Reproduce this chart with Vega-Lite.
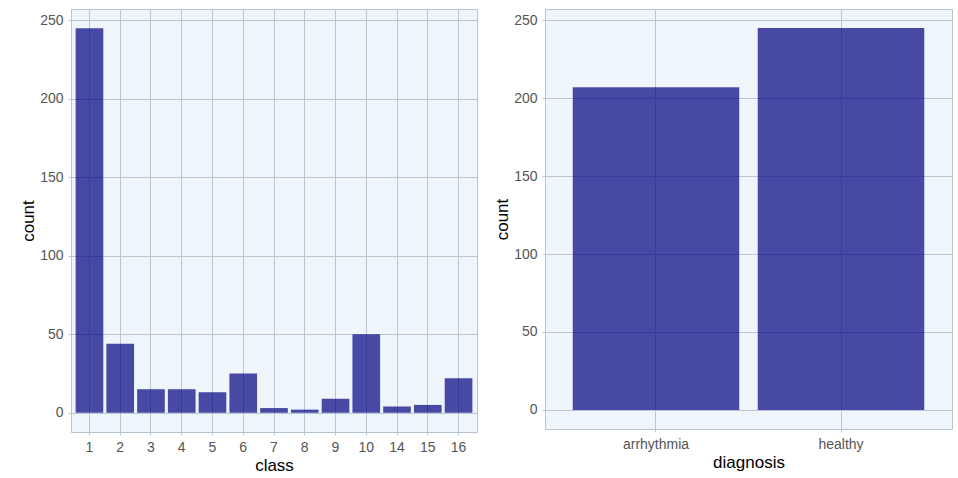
{
  "$schema": "https://vega.github.io/schema/vega-lite/v6.json",
  "background": "white",
  "padding": {"left": 19, "top": 8, "right": 5, "bottom": 5},
  "datasets": {
    "classes": [
      {"class": 1, "count": 245},
      {"class": 2, "count": 44},
      {"class": 3, "count": 15},
      {"class": 4, "count": 15},
      {"class": 5, "count": 13},
      {"class": 6, "count": 25},
      {"class": 7, "count": 3},
      {"class": 8, "count": 2},
      {"class": 9, "count": 9},
      {"class": 10, "count": 50},
      {"class": 14, "count": 4},
      {"class": 15, "count": 5},
      {"class": 16, "count": 22}
    ],
    "diag": [
      {"diagnosis": "arrhythmia", "count": 207},
      {"diagnosis": "healthy", "count": 245}
    ]
  },
  "config": {
    "view": {"fill": "#eef6fc", "stroke": "#b7c3cf", "strokeWidth": 1},
    "axis": {
      "gridColor": "#bac6d2",
      "gridWidth": 1,
      "gridOpacity": 1,
      "domain": false,
      "tickColor": "#bac6d2",
      "tickSize": 3,
      "labelColor": "#555555",
      "labelFont": "Liberation Sans",
      "labelFontSize": 14,
      "labelPadding": 5,
      "titleFont": "Liberation Sans",
      "titleFontSize": 17,
      "titleFontWeight": "normal",
      "titleColor": "#000000"
    }
  },
  "spacing": 15,
  "hconcat": [
    {
      "width": 406,
      "height": 423,
      "data": {"name": "classes"},
      "mark": {"type": "bar", "color": "#000080", "opacity": 0.7},
      "encoding": {
        "x": {
          "field": "class",
          "type": "ordinal",
          "scale": {"paddingInner": 0.1, "paddingOuter": 0.15},
          "axis": {"labelAngle": 0, "bandPosition": 0.5, "grid": true, "title": "class", "titlePadding": 3}
        },
        "y": {
          "field": "count",
          "type": "quantitative",
          "scale": {"domain": [-12.25, 257.25], "nice": false, "zero": false},
          "axis": {"values": [0, 50, 100, 150, 200, 250], "title": "count", "titlePadding": 2}
        },
        "y2": {"datum": 0}
      }
    },
    {
      "width": 407,
      "height": 420,
      "data": {"name": "diag"},
      "mark": {"type": "bar", "color": "#000080", "opacity": 0.7},
      "encoding": {
        "x": {
          "field": "diagnosis",
          "type": "nominal",
          "scale": {"paddingInner": 0.1, "paddingOuter": 0.15},
          "axis": {"labelAngle": 0, "bandPosition": 0.5, "grid": true, "title": "diagnosis", "titlePadding": 3}
        },
        "y": {
          "field": "count",
          "type": "quantitative",
          "scale": {"domain": [-12.25, 257.25], "nice": false, "zero": false},
          "axis": {"values": [0, 50, 100, 150, 200, 250], "title": "count", "titlePadding": 2}
        },
        "y2": {"datum": 0}
      }
    }
  ]
}
